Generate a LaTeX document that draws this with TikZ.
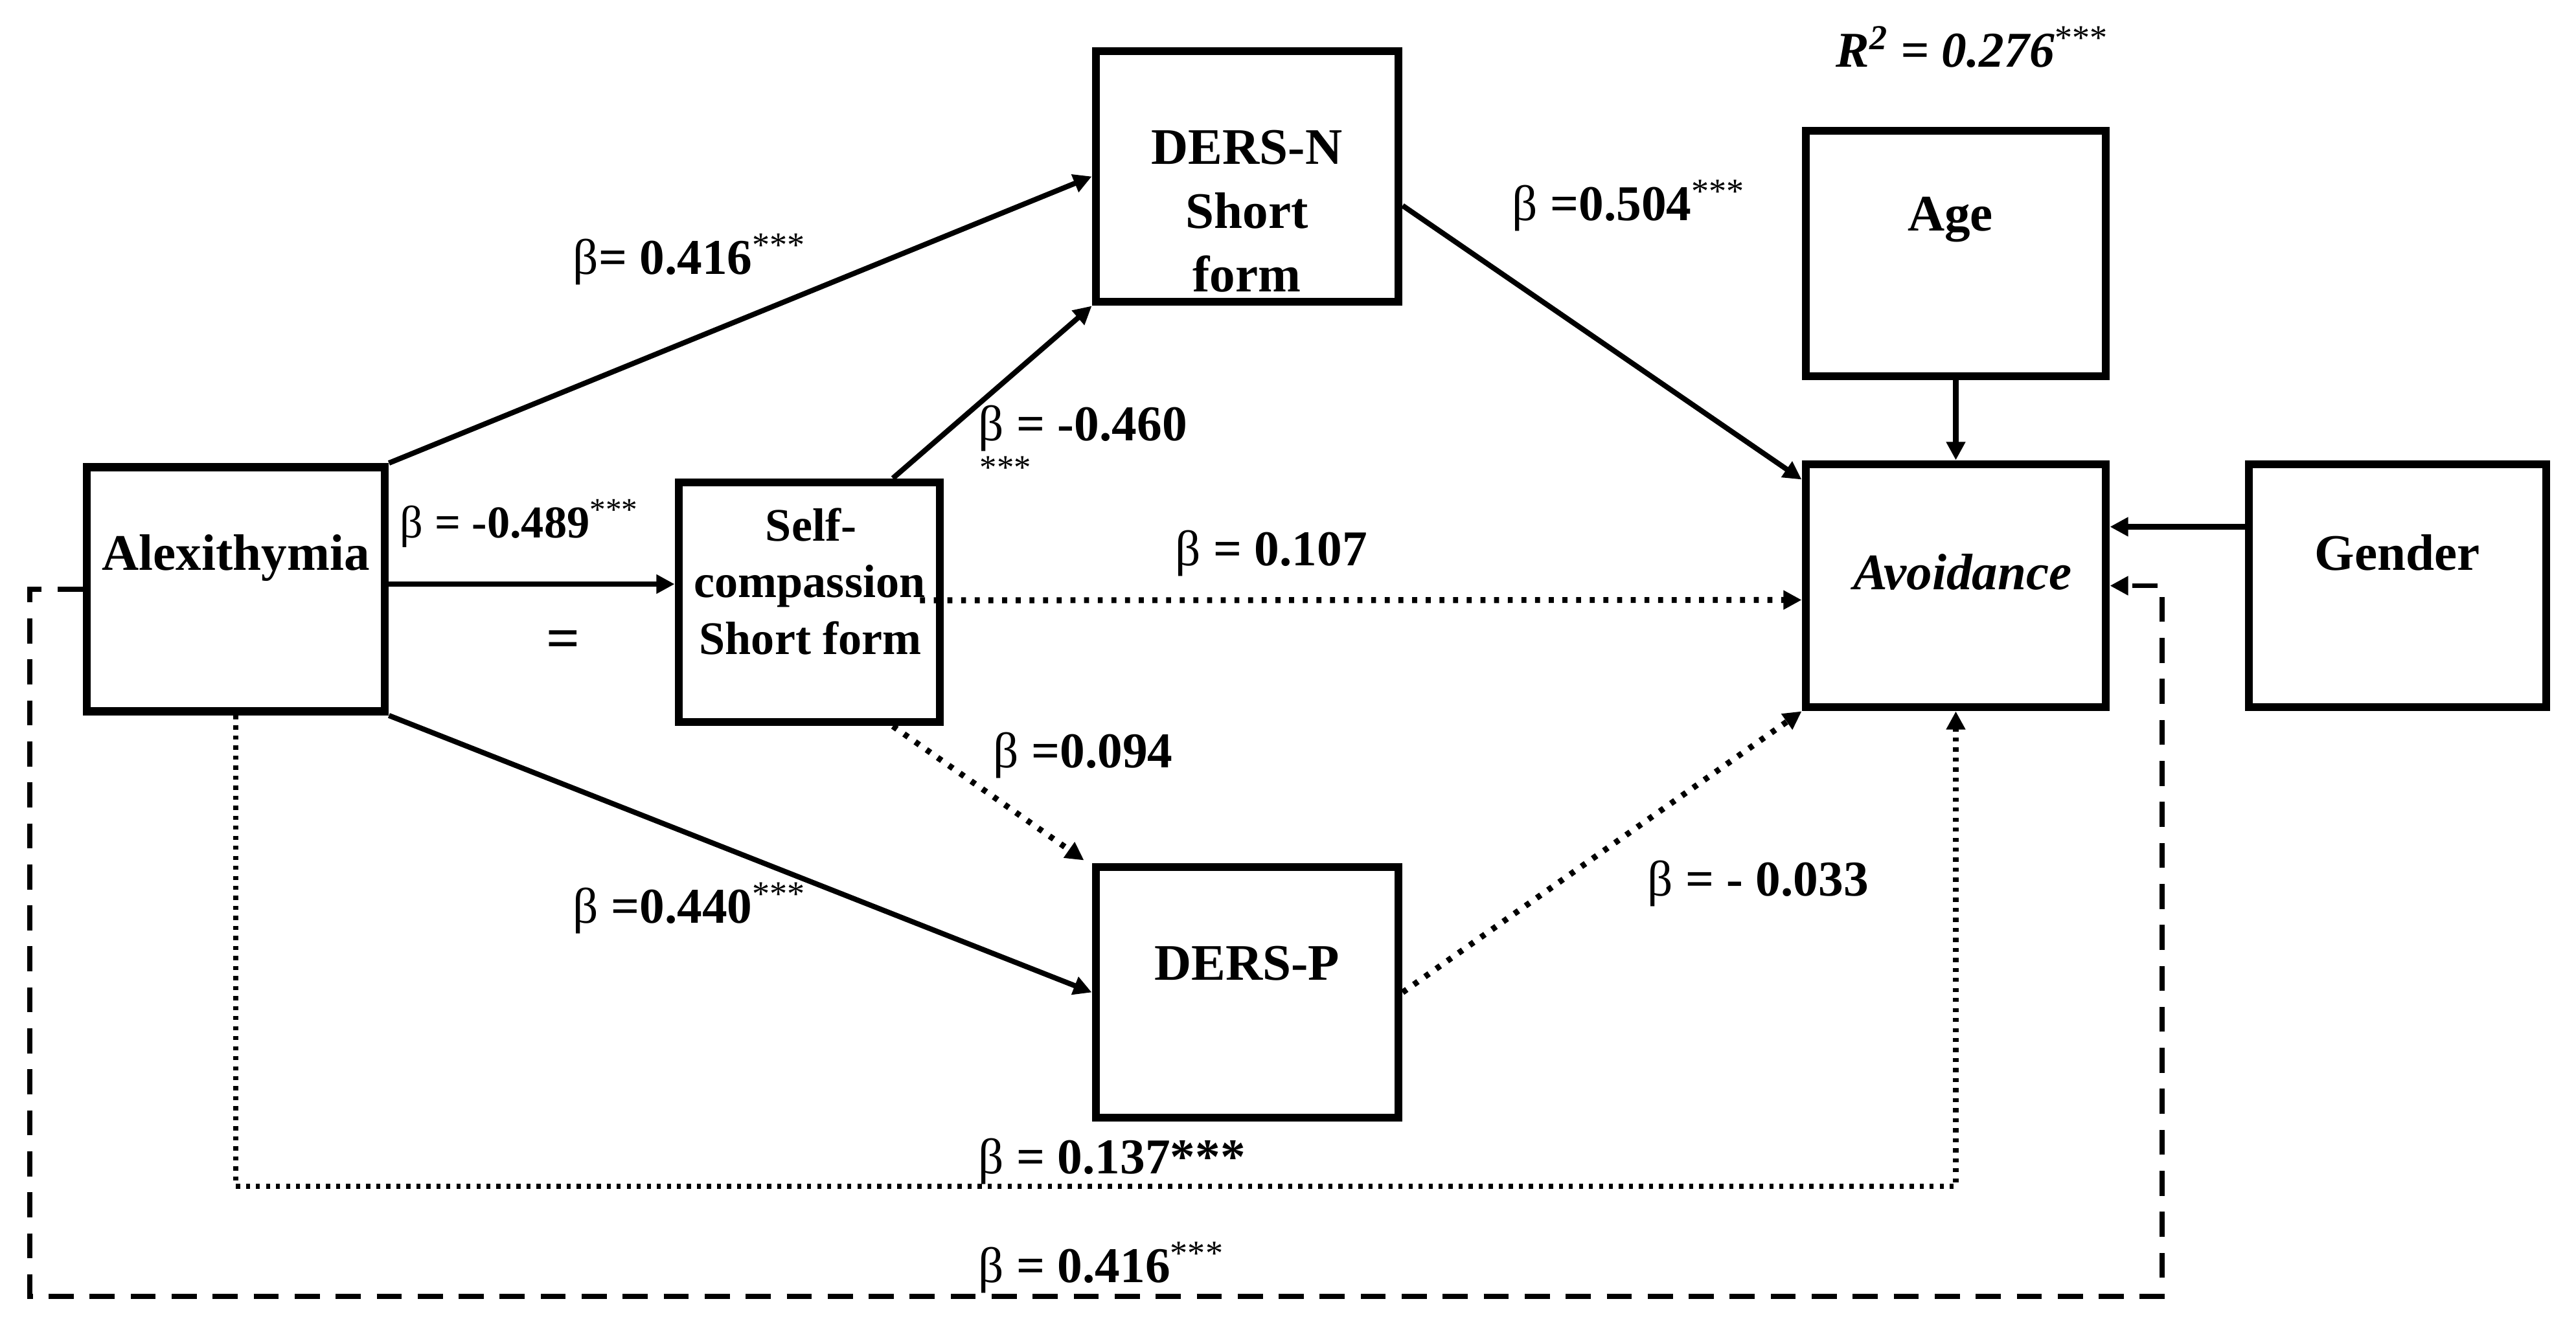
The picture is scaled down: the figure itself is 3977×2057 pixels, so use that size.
\documentclass[tikz,border=0pt]{standalone}
\usepackage{fontspec}
\setmainfont{Liberation Serif}
\usetikzlibrary{arrows.meta,calc}
\begin{document}
\begin{tikzpicture}[x=0.01cm,y=-0.01cm,
  box/.style={draw,line width=3.6pt,rectangle,inner sep=0pt},
  arr/.style={line width=2.3pt,-{Triangle[length=8pt,width=8pt]}},
  dotA/.style={line width=2.6pt,dash pattern=on 2.2pt off 3.8pt},
  dotB/.style={line width=2.4pt,dash pattern=on 1.8pt off 2.6pt},
  dsh/.style={line width=2.2pt,dash pattern=on 11pt off 7pt},
  txt/.style={font=\fontsize{22.5}{27}\selectfont\bfseries,inner sep=0pt,anchor=base},
  sctxt/.style={font=\fontsize{20.5}{25}\selectfont\bfseries,inner sep=0pt,anchor=base},
  lbl/.style={font=\fontsize{22}{26}\selectfont\bfseries,inner sep=0pt,anchor=base west},
]
\useasboundingbox (0,0) rectangle (3977,2057);
\fill[white] (0,0) rectangle (3977,2057);

% boxes
\node[box,minimum width=4.60cm,minimum height=3.77cm] (alex) at (364,910) {};
\node[box,minimum width=4.67cm,minimum height=3.87cm] (dn) at (1925.5,272.5) {};
\node[box,minimum width=4.03cm,minimum height=3.70cm] (sc) at (1249.5,930) {};
\node[box,minimum width=4.67cm,minimum height=3.87cm] (dp) at (1925.5,1532.5) {};
\node[box,minimum width=4.63cm,minimum height=3.79cm] (age) at (3019.5,391.5) {};
\node[box,minimum width=4.63cm,minimum height=3.75cm] (av) at (3019.5,904.5) {};
\node[box,minimum width=4.59cm,minimum height=3.75cm] (gen) at (3701.5,904.5) {};

% connectors
\draw[arr] (alex.north east) -- (dn.west);
\draw[arr] ($(sc.north west)!0.81!(sc.north east)$) -- (dn.south west);
\draw[arr] ($(dn.east)+(0,45)$) -- ($(av.north west)+(0,30)$);
\draw[arr] (age.south) -- (av.north);
\draw[arr] ($(gen.west)+(0,-91)$) -- ($(av.east)+(0,-91)$);
\draw[arr,dotA] ($(sc.east)+(-37,-3)$) -- ($(av.west)+(0,22)$);
\draw[arr] ($(alex.east)+(0,-8)$) -- ($(sc.west)+(0,-28)$);
\draw[arr,dotA] ($(sc.south west)!0.81!(sc.south east)$) -- ($(dp.north west)+(-12,-4)$);
\draw[arr] (alex.south east) -- (dp.west);
\draw[arr,dotA] (dp.east) -- (av.south west);
\coordinate (c137) at (0,1832);
\draw[arr,dotB] (alex.south) -- (alex.south |- c137) -| (av.south);
\coordinate (dl) at (46,2002);
\coordinate (dr) at (3338,2002);
\draw[arr,dsh] (alex.west) -- (alex.west -| dl) -- (dl) -- (dr) -- (dr |- av.east) -- (av.east);

% box texts
\node[txt] (alext) at (364,880) {Alexithymia};
\node[txt] (dnt1) at (1925,253) {DERS-N};
\node[txt] (dnt2) at (1925,352) {Short};
\node[txt] (dnt3) at (1925,450) {form};
\node[sctxt] (sct1) at (1252,835) {Self-};
\node[sctxt] (sct2) at (1250,922) {compassion};
\node[sctxt] (sct3) at (1251,1010) {Short form};
\node[txt] (dpt) at (1925,1513) {DERS-P};
\node[txt] (aget) at (3011,356) {Age};
\node[txt] (gent) at (3701,880) {Gender};
\node[txt,font=\fontsize{22.5}{27}\selectfont\bfseries\itshape] (avt) at (3030,910) {Avoidance};

% labels
\node[lbl] (l1) at (884,423) {{\mdseries β}= 0.416\textsuperscript{\mdseries ***}};
\node[lbl,font=\fontsize{20}{24}\selectfont\bfseries] (l2) at (617,830) {{\mdseries β} = -0.489\textsuperscript{\mdseries ***}};
\node[txt,font=\fontsize{26}{30}\selectfont\bfseries,anchor=center] (l2b) at (870,995) {=};
\node[lbl] (l3) at (1510,680) {{\mdseries β} = -0.460};
\node[lbl,anchor=north west,font=\fontsize{15}{18}\selectfont] (l3s) at (1512,704) {***};
\node[lbl] (l4) at (1814,873) {{\mdseries β} = 0.107};
\node[lbl] (l5) at (2334,340) {{\mdseries β} =0.504\textsuperscript{\mdseries ***}};
\node[lbl] (l6) at (2834,103) {\textit{R\textsuperscript{2} = 0.276}\textsuperscript{\mdseries ***}};
\node[lbl] (l7) at (1533,1185) {{\mdseries β} =0.094};
\node[lbl] (l8) at (884,1425) {{\mdseries β} =0.440\textsuperscript{\mdseries ***}};
\node[lbl] (l9) at (2543,1383) {{\mdseries β} = - 0.033};
\node[lbl] (l10) at (1510,1812) {{\mdseries β} = 0.137***};
\node[lbl] (l11) at (1510,1980) {{\mdseries β} = 0.416\textsuperscript{\mdseries ***}};
\end{tikzpicture}
\end{document}
